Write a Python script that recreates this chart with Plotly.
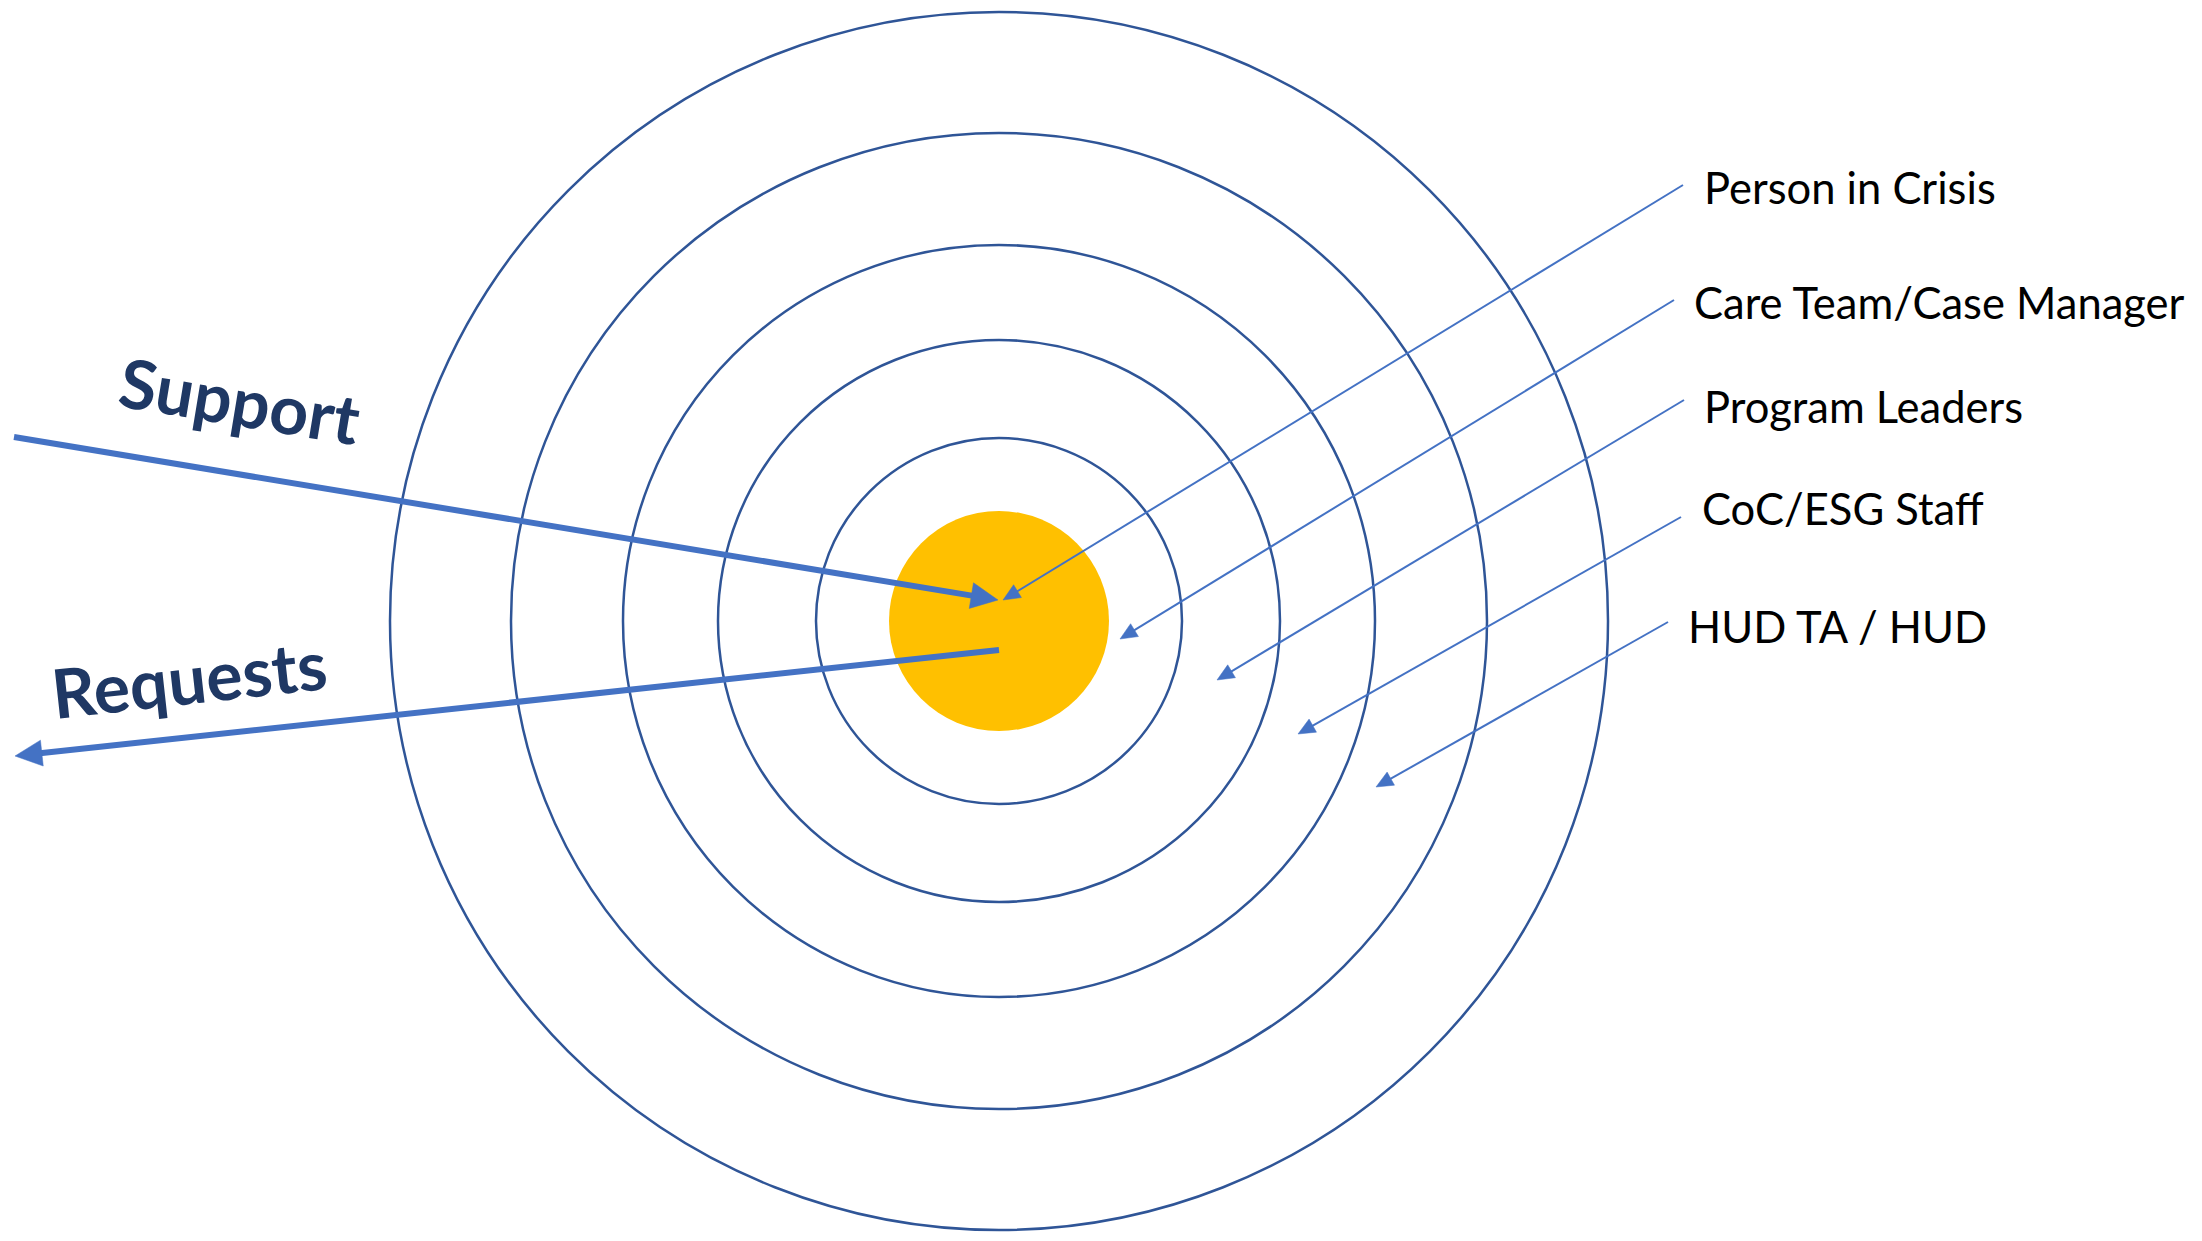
import math
import plotly.graph_objects as go

W, H = 2202, 1241
PAGE_MARGIN = 8  # default body margin of the html page

# ---- data ----
center = (999, 621)
ring_radii = [183, 281, 376, 488, 609]
core_radius = 110

labels = ["Person in Crisis", "Care Team/Case Manager", "Program Leaders", "CoC/ESG Staff", "HUD TA / HUD"]
label_x = [1702, 1692, 1702, 1700, 1686]
label_y = [187, 302, 406, 508, 626]
leader_start_x = [1683, 1674, 1684, 1681, 1668]
leader_start_y = [185, 300, 400, 517, 622]
leader_tip_x = [1003, 1120, 1217, 1298, 1376]
leader_tip_y = [600, 639, 680, 734, 787]

big_arrow_names = ["Support", "Requests"]
big_start_x = [14, 999]
big_start_y = [437, 650]
big_tip_x = [998, 15]
big_tip_y = [600, 756]
big_text_x = [240, 189]
big_text_y = [399, 677]
big_text_angle = [9.4, -6.3]

RING = "#2F5597"
CORE = "#FFC000"
ARROW = "#4472C4"
NAVY = "#1F3864"

fig = go.Figure()

# rings and core
shapes = [dict(type="circle", xref="x", yref="y", layer="below",
               x0=center[0] - core_radius, x1=center[0] + core_radius,
               y0=center[1] - core_radius, y1=center[1] + core_radius,
               fillcolor=CORE, line=dict(width=0))]
for r in ring_radii:
    shapes.append(dict(type="circle", xref="x", yref="y", layer="below",
                       x0=center[0] - r, x1=center[0] + r,
                       y0=center[1] - r, y1=center[1] + r,
                       line=dict(color=RING, width=2.5)))


def add_arrow(x0, y0, x1, y1, lw, hl, hw, color):
    dx, dy = x1 - x0, y1 - y0
    d = math.hypot(dx, dy)
    ux, uy = dx / d, dy / d
    bx, by = x1 - ux * hl, y1 - uy * hl
    px, py = -uy, ux
    fig.add_trace(go.Scatter(x=[x0, bx + ux * 2], y=[y0, by + uy * 2], mode="lines",
                             line=dict(color=color, width=lw), hoverinfo="skip", showlegend=False))
    fig.add_trace(go.Scatter(x=[x1, bx + px * hw / 2, bx - px * hw / 2, x1],
                             y=[y1, by + py * hw / 2, by - py * hw / 2, y1],
                             mode="lines", fill="toself", fillcolor=color,
                             line=dict(color=color, width=0.5), hoverinfo="skip", showlegend=False))


for i in range(len(big_arrow_names)):
    add_arrow(big_start_x[i], big_start_y[i], big_tip_x[i], big_tip_y[i], 6, 27, 26, ARROW)

for i in range(len(labels)):
    add_arrow(leader_start_x[i], leader_start_y[i], leader_tip_x[i], leader_tip_y[i], 2, 17, 15, ARROW)

annotations = []
for i, t in enumerate(labels):
    annotations.append(dict(x=label_x[i], y=label_y[i], xref="x", yref="y", text=t,
                            showarrow=False, xanchor="left", yanchor="middle",
                            font=dict(family="Lato", size=43.5, color="black")))
for i, t in enumerate(big_arrow_names):
    annotations.append(dict(x=big_text_x[i], y=big_text_y[i], xref="x", yref="y",
                            text="<b>" + t + "</b>", showarrow=False,
                            xanchor="center", yanchor="middle", textangle=big_text_angle[i],
                            font=dict(family="Lato", size=68, color=NAVY)))

fig.update_layout(width=W - PAGE_MARGIN, height=H - PAGE_MARGIN,
                  margin=dict(l=0, r=0, t=0, b=0),
                  paper_bgcolor="white", plot_bgcolor="white",
                  shapes=shapes, annotations=annotations, showlegend=False,
                  xaxis=dict(range=[PAGE_MARGIN, W], visible=False, fixedrange=True),
                  yaxis=dict(range=[H, PAGE_MARGIN], visible=False, fixedrange=True))

fig.write_html("out.html")
